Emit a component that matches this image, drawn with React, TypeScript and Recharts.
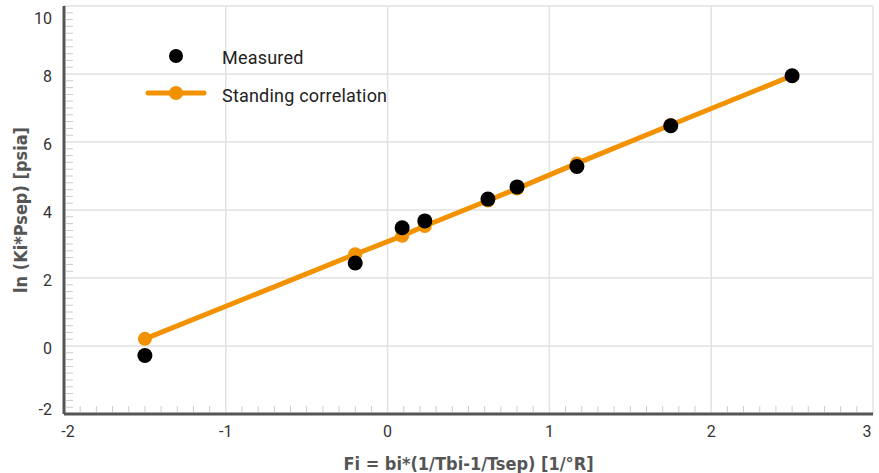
import React from 'react';
import {
  ScatterChart,
  Scatter,
  XAxis,
  YAxis,
  CartesianGrid,
  Label,
} from 'recharts';

const fi = [-1.5, -0.2, 0.09, 0.23, 0.62, 0.8, 1.17, 1.75, 2.5];
const measured = [-0.28, 2.44, 3.48, 3.68, 4.32, 4.68, 5.28, 6.48, 7.95];
const standing = [0.21, 2.7, 3.24, 3.53, 4.28, 4.63, 5.37, 6.5, 7.95];

const xMajor = [-2, -1, 0, 1, 2, 3];
const yMajor = [-2, 0, 2, 4, 6, 8, 10];

const ORANGE = '#f39200';
const AXIS = '#555555';
const GRID = '#e2e2e2';
const MINOR = '#cccccc';

// minor tick marks: 0.1 steps on x, 0.2 steps on y
const xTicks: number[] = [];
for (let i = -20; i <= 30; i++) xTicks.push(i / 10);
const yTicks: number[] = [];
for (let i = -10; i <= 50; i++) yTicks.push((i * 2) / 10);

const measuredData = fi.map((x, i) => ({ x, y: measured[i] }));
const standingData = fi.map((x, i) => ({ x, y: standing[i] }));

const isMajor = (v: number, list: number[]) =>
  list.some((m) => Math.abs(m - v) < 1e-6);

const XTick = (props: any) => {
  const { x, y, payload } = props;
  const v = payload.value;
  const major = isMajor(v, xMajor);
  let dx = 0;
  if (v === -2) dx = 4;
  if (v === 3) dx = -6;
  return (
    <g>
      {!major && <line x1={x} x2={x} y1={y - 2} y2={y - 8} stroke={MINOR} strokeWidth={1} />}
      {major && (
        <text
          x={x + dx}
          y={y + 17}
          textAnchor="middle"
          dominantBaseline="central"
          fontSize={16}
          fill="#333"
          fontFamily="Roboto, sans-serif"
        >
          {v}
        </text>
      )}
    </g>
  );
};

const YTick = (props: any) => {
  const { x, y, payload } = props;
  const v = payload.value;
  const major = isMajor(v, yMajor);
  let dy = 2;
  if (v === 10) dy = 12;
  if (v === -2) dy = -5;
  return (
    <g>
      {!major && <line x1={x + 2} x2={x + 9} y1={y} y2={y} stroke={MINOR} strokeWidth={1} />}
      {major && (
        <text
          x={x - 12}
          y={y + dy}
          textAnchor="end"
          dominantBaseline="central"
          fontSize={16}
          fill="#333"
          fontFamily="Roboto, sans-serif"
        >
          {v}
        </text>
      )}
    </g>
  );
};

const legendText = {
  fontSize: 18,
  fill: '#222',
  fontFamily: 'Roboto, sans-serif',
  letterSpacing: 0.2,
};

// drawn as an overlay so it does not take room from the plot
const ChartLegend = () => (
  <svg
    width={280}
    height={80}
    style={{ position: 'absolute', left: 140, top: 40, overflow: 'visible' }}
  >
    <circle cx={36} cy={16} r={7} fill="#000" />
    <text x={82} y={17} dominantBaseline="central" {...legendText}>
      Measured
    </text>
    <line x1={8} x2={64} y1={53} y2={53} stroke={ORANGE} strokeWidth={5} strokeLinecap="round" />
    <circle cx={36} cy={53} r={7} fill={ORANGE} />
    <text x={82} y={55} dominantBaseline="central" {...legendText}>
      Standing correlation
    </text>
  </svg>
);

const labelFont = "'Liberation Sans Narrow', 'DejaVu Sans Condensed', sans-serif";

export default function App(): React.JSX.Element {
  return (
    <div style={{ position: 'absolute', left: 0, top: 0, width: 879, height: 473, background: '#fff' }}>
      <ScatterChart width={879} height={473} margin={{ top: 6, right: 6, bottom: 29, left: 0 }}>
        <CartesianGrid
          stroke={GRID}
          strokeWidth={1.5}
          horizontalValues={yMajor}
          verticalValues={xMajor}
        />
        <XAxis
          type="number"
          dataKey="x"
          domain={[-2, 3]}
          ticks={xTicks}
          interval={0}
          height={30}
          tickSize={0}
          tickMargin={0}
          tickLine={false}
          axisLine={{ stroke: AXIS, strokeWidth: 3 }}
          tick={<XTick />}
          allowDataOverflow
        >
          <Label
            content={(p: any) => {
              const vb = p.viewBox;
              return (
                <text
                  x={vb.x + vb.width / 2}
                  y={vb.y + 49}
                  textAnchor="middle"
                  dominantBaseline="central"
                  fontSize={18}
                  fontWeight="bold"
                  fill={AXIS}
                  fontFamily={labelFont}
                >
                  Fi = bi*(1/Tbi-1/Tsep) [1/°R]
                </text>
              );
            }}
          />
        </XAxis>
        <YAxis
          type="number"
          dataKey="y"
          domain={[-2, 10]}
          ticks={yTicks}
          interval={0}
          width={64}
          tickSize={0}
          tickMargin={0}
          tickLine={false}
          axisLine={{ stroke: AXIS, strokeWidth: 3 }}
          tick={<YTick />}
          allowDataOverflow
        >
          <Label
            content={(p: any) => {
              const vb = p.viewBox;
              const cy = vb.y + vb.height / 2;
              return (
                <text
                  x={20}
                  y={cy}
                  transform={`rotate(-90 20 ${cy})`}
                  textAnchor="middle"
                  dominantBaseline="central"
                  fontSize={18}
                  fontWeight="bold"
                  fill={AXIS}
                  fontFamily={labelFont}
                >
                  ln (Ki*Psep) [psia]
                </text>
              );
            }}
          />
        </YAxis>
        <Scatter
          name="Standing correlation"
          data={standingData}
          fill={ORANGE}
          line={{ stroke: ORANGE, strokeWidth: 5 }}
          shape={(p: any) => <circle cx={p.cx} cy={p.cy} r={7} fill={ORANGE} />}
          isAnimationActive={false}
        />
        <Scatter
          name="Measured"
          data={measuredData}
          fill="#000"
          shape={(p: any) => <circle cx={p.cx} cy={p.cy} r={7.5} fill="#000" />}
          isAnimationActive={false}
        />
      </ScatterChart>
      <ChartLegend />
    </div>
  );
}
